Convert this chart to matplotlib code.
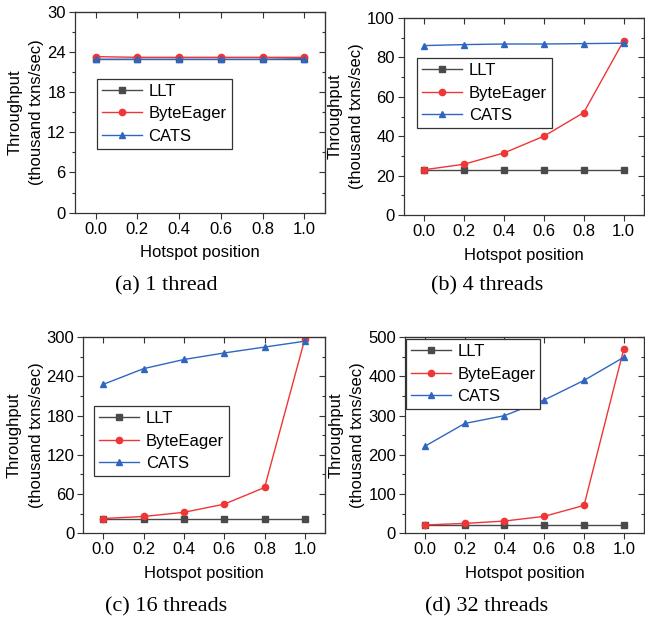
import matplotlib.pyplot as plt
from matplotlib.ticker import MultipleLocator, AutoMinorLocator

plt.rcParams['font.family'] = ['Liberation Sans', 'DejaVu Sans']

x = [0.0, 0.2, 0.4, 0.6, 0.8, 1.0]
series = ['LLT', 'ByteEager', 'CATS']

# throughput (thousand txns/sec) per panel
llt_1 = [23.0, 23.0, 23.0, 23.0, 23.0, 23.0]
byte_1 = [23.3, 23.2, 23.2, 23.2, 23.2, 23.2]
cats_1 = [22.9, 22.9, 22.9, 22.9, 22.9, 23.0]

llt_4 = [22.8, 22.8, 22.8, 22.8, 22.8, 22.8]
byte_4 = [23.0, 25.8, 31.5, 40.0, 52.0, 88.5]
cats_4 = [86.0, 86.5, 86.8, 86.8, 87.0, 87.2]

llt_16 = [21.5, 21.5, 21.5, 21.5, 21.5, 21.5]
byte_16 = [22.5, 25.6, 32.0, 44.5, 70.0, 298.0]
cats_16 = [228.0, 252.0, 266.0, 276.0, 285.0, 294.0]

llt_32 = [22.0, 22.0, 22.0, 22.0, 22.0, 22.0]
byte_32 = [21.0, 25.0, 31.0, 43.0, 71.0, 471.0]
cats_32 = [222.0, 280.0, 300.0, 340.0, 390.0, 449.0]

panels = [
    ('(a) 1 thread', [llt_1, byte_1, cats_1], 30, 6),
    ('(b) 4 threads', [llt_4, byte_4, cats_4], 100, 20),
    ('(c) 16 threads', [llt_16, byte_16, cats_16], 300, 60),
    ('(d) 32 threads', [llt_32, byte_32, cats_32], 500, 100),
]

colors = ['#4a4a4a', '#f03535', '#3066c0']
markers = ['s', 'o', '^']

# axes rects in figure fraction
rects = [
    [0.116, 0.657, 0.388, 0.324],
    [0.626, 0.653, 0.372, 0.318],
    [0.129, 0.140, 0.375, 0.316],
    [0.628, 0.140, 0.370, 0.316],
]
# legend upper-left corners (figure fraction)
leg_pos = [(0.150, 0.873), (0.647, 0.906), (0.146, 0.345), (0.629, 0.453)]
# caption centres
cap_pos = [(0.258, 0.524), (0.755, 0.524), (0.258, 0.006), (0.755, 0.006)]

fig = plt.figure(figsize=(6.45, 6.2), dpi=100)

for i, (cap, data, ymax, ystep) in enumerate(panels):
    ax = fig.add_axes(rects[i])
    for name, vals, c, m in zip(series, data, colors, markers):
        ax.plot(x, vals, color=c, marker=m, markersize=4.5, linewidth=1.0, label=name)
    ax.set_xlim(-0.1, 1.1)
    ax.set_ylim(0, ymax)
    ax.set_xticks(x)
    ax.set_xticklabels(['%.1f' % v for v in x])
    ax.yaxis.set_major_locator(MultipleLocator(ystep))
    ax.yaxis.set_minor_locator(AutoMinorLocator(2))
    ax.tick_params(axis='both', which='major', labelsize=12, length=4, width=0.8,
                   direction='out', color='#333333', pad=2.5)
    ax.tick_params(axis='y', which='minor', length=2.5, width=0.8, direction='out', color='#333333')
    for s in ax.spines.values():
        s.set_linewidth(0.9)
        s.set_color('#333333')
    ax.set_xlabel('Hotspot position', fontsize=12, labelpad=6)
    ax.set_ylabel('Throughput\n(thousand txns/sec)', fontsize=12, labelpad=2, linespacing=1.55)
    # mirrored inward ticks on top/right
    top = ax.secondary_xaxis('top')
    top.set_xticks(x)
    top.tick_params(direction='in', length=4, width=0.8, labeltop=False, color='#333333')
    right = ax.secondary_yaxis('right')
    right.yaxis.set_major_locator(MultipleLocator(ystep))
    right.yaxis.set_minor_locator(AutoMinorLocator(2))
    right.tick_params(which='major', direction='in', length=4, width=0.8, labelright=False, color='#333333')
    right.tick_params(which='minor', direction='in', length=2.5, width=0.8, color='#333333')
    leg = ax.legend(loc='upper left', bbox_to_anchor=leg_pos[i], bbox_transform=fig.transFigure,
                    borderaxespad=0, fontsize=12, handlelength=2.4, handletextpad=0.4,
                    borderpad=0.3, labelspacing=0.45, fancybox=False, framealpha=1)
    leg.get_frame().set_edgecolor('#333333')
    leg.get_frame().set_linewidth(0.9)
    fig.text(cap_pos[i][0], cap_pos[i][1], cap, ha='center', va='bottom',
             fontsize=16, family=['Liberation Serif', 'DejaVu Serif'])

fig.savefig('out.png', dpi=100)
